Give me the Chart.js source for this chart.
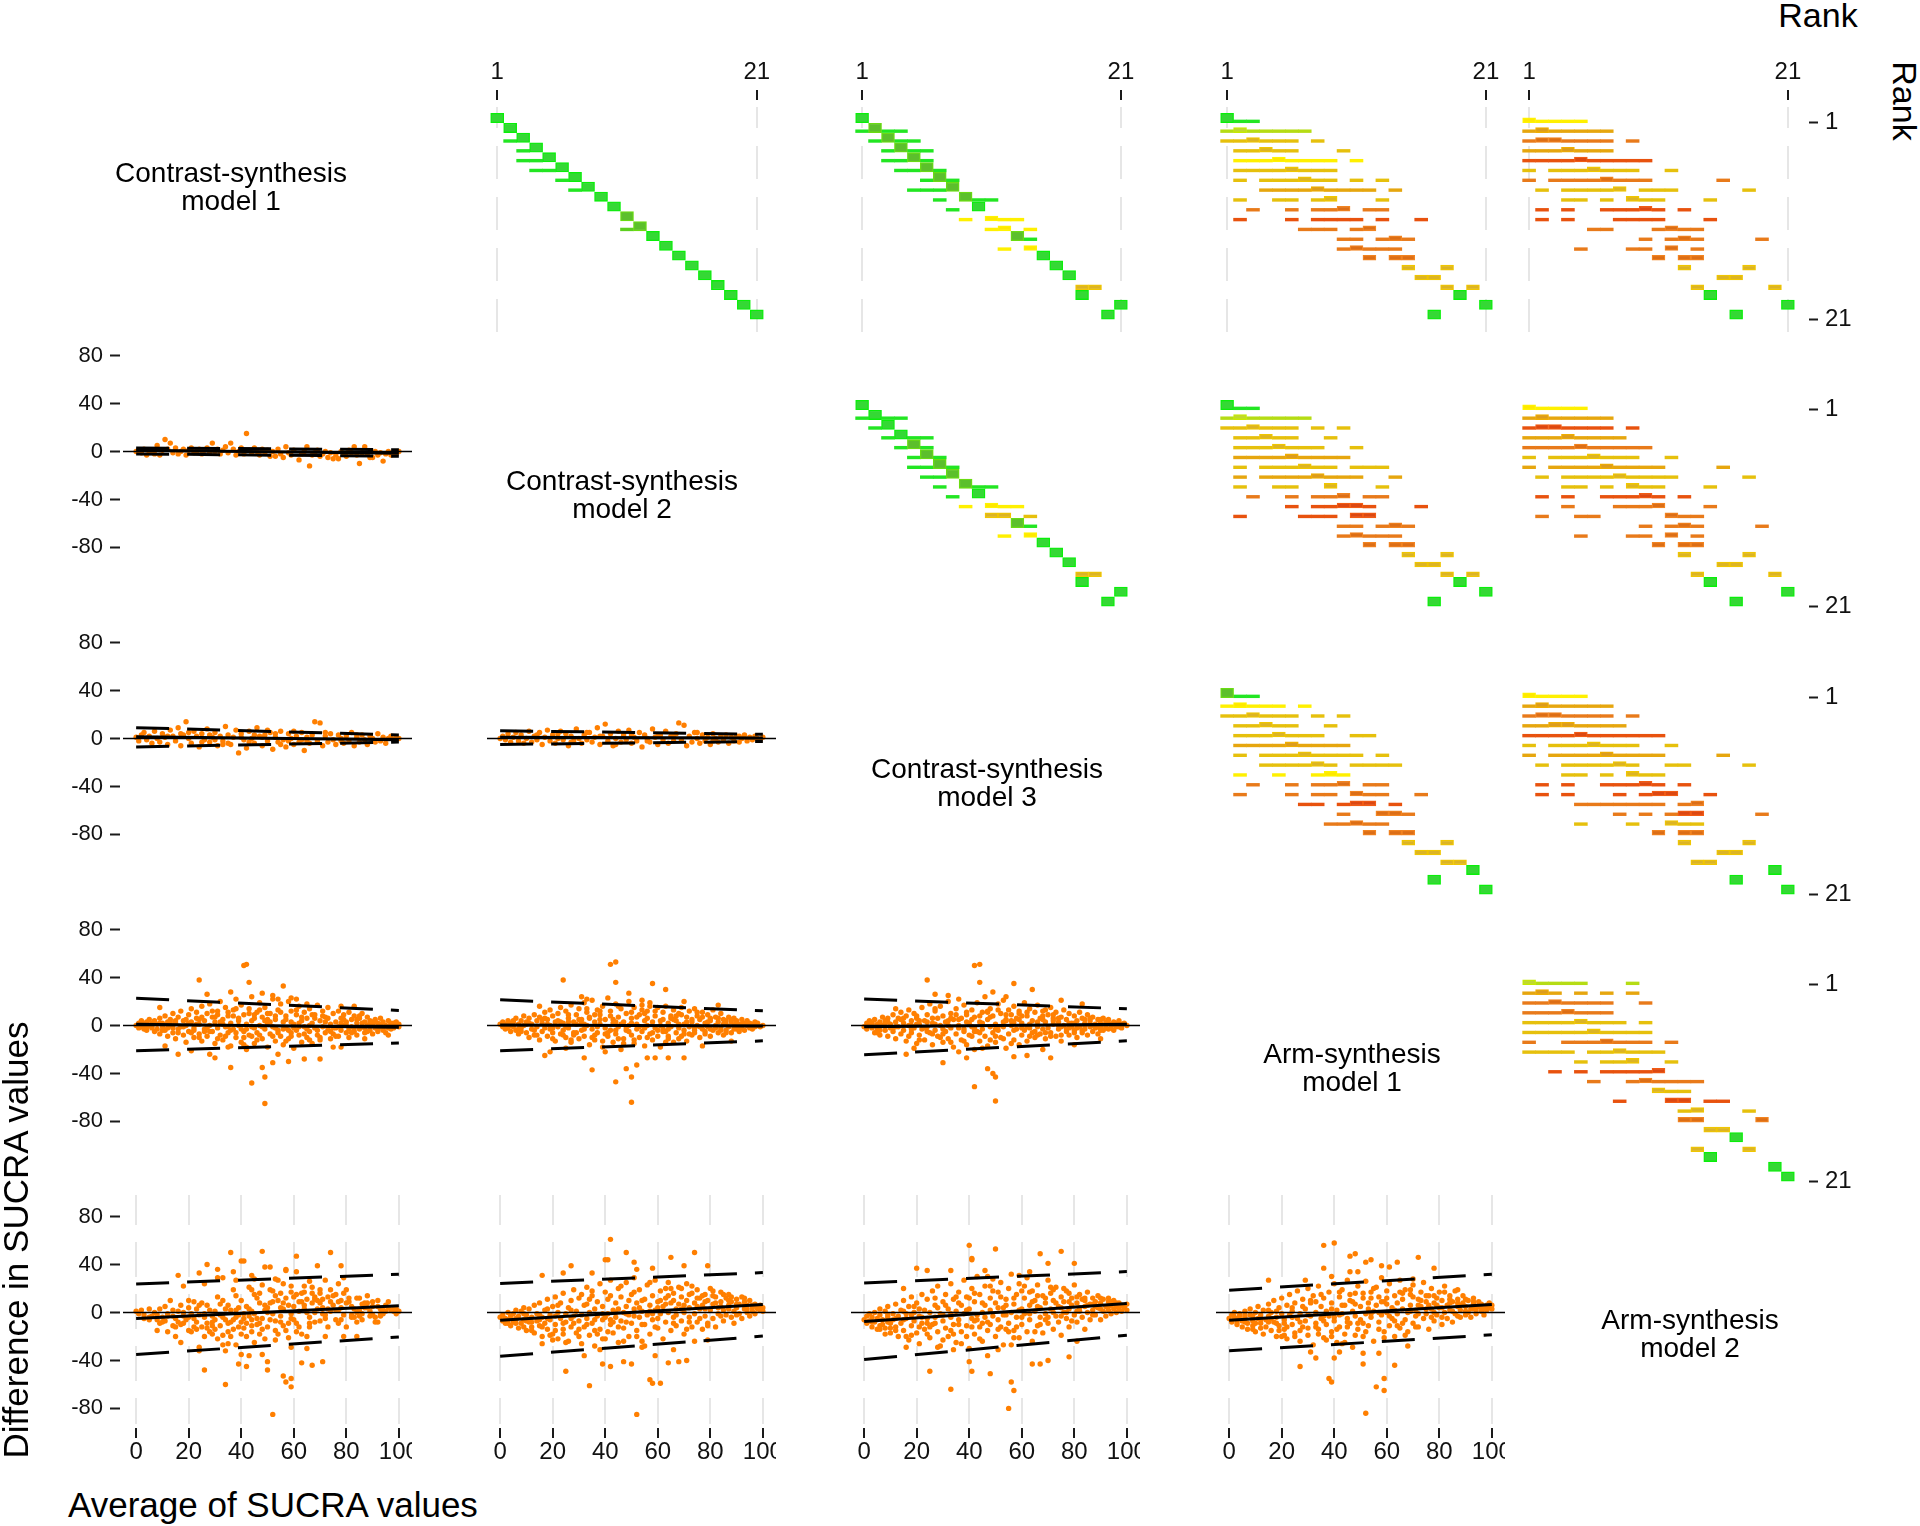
<!DOCTYPE html>
<html>
<head>
<meta charset="utf-8">
<title>SUCRA agreement matrix</title>
<script src="https://cdn.jsdelivr.net/npm/chart.js@4.4.1/dist/chart.umd.min.js"></script>
<style>
  html, body { margin:0; padding:0; background:#ffffff; }
  #root { position:relative; width:1920px; height:1526px; overflow:hidden; background:#fff;
          font-family:'Liberation Sans', Arial, Helvetica, sans-serif; color:#000; }
  #root canvas { position:absolute; }
  .txt { position:absolute; white-space:pre; text-align:center; color:#000; }
  .diag { width:500px; font-size:28px; line-height:28px; }
</style>
</head>
<body>
<div id="root"></div>
<script>
// ================= DATA =================
const MODELS = ["Contrast-synthesis\nmodel 1", "Contrast-synthesis\nmodel 2", "Contrast-synthesis\nmodel 3", "Arm-synthesis\nmodel 1", "Arm-synthesis\nmodel 2"];
const X_TITLE = "Average of SUCRA values";
const Y_TITLE = "Difference in SUCRA values";
const RANK_TITLE = "Rank";
const X_TICKS = [0, 20, 40, 60, 80, 100];
const Y_TICKS = [-80, -40, 0, 40, 80];
const RANK_TICKS = [1, 21];

// Bland-Altman points: flat lists x,y,x,y,...
const PTS_CS2_CS1 = [0,0,1,1,2,-1,3,2,4,-3,5,0,6,1,7,-2,8,5,9,-3,10,1,11,10,12,2,13,7,14,-1,15,3,16,-2,17,0,18,2,19,-3,20,1,21,3,22,-1,23,0,24,2,25,-2,26,1,27,3,28,-1,29,7,30,0,31,2,32,-2,33,1,34,4,35,-1,36,7,37,2,38,-3,39,0,40,3,41,-2,42,15,43,1,44,-1,45,3,46,0,47,-3,48,2,49,-1,50,1,51,-4,52,0,53,-4,54,2,55,-2,56,-5,57,4,58,-1,59,-3,60,1,62,-7,63,-2,64,0,65,4,66,-12,67,-3,68,-1,69,1,70,-4,71,-2,72,0,73,-5,74,-1,75,-6,76,-3,77,-6,78,0,79,-2,80,-4,81,1,82,-1,83,4,84,-3,85,-10,86,-1,87,4,88,-2,89,-5,90,-5,91,0,92,-3,93,-1,94,-8,95,-2,96,0,97,-3,98,-1,99,-2,100,0];
const PTS_CS3_CS1 = [0,1,1,-2,2,3,3,5,4,-1,5,2,6,-4,7,6,8,0,9,-3,10,4,11,1,12,-5,13,7,14,2,15,-2,16,9,17,-6,18,3,19,14,20,0,21,-4,22,6,23,2,24,-7,25,4,26,-1,27,8,28,-3,29,1,30,5,31,-6,32,2,33,-2,34,10,35,3,36,-5,37,1,38,7,39,-12,40,4,41,-1,42,-8,43,6,44,0,45,-4,46,9,47,2,48,-6,49,3,50,-2,51,5,52,-9,53,1,54,-3,55,6,56,-1,57,-7,58,4,59,0,60,-5,61,2,62,-3,63,5,64,-10,65,1,66,-4,67,3,68,14,69,-2,70,13,71,-6,72,2,73,-3,74,4,75,-1,76,-5,77,3,78,0,79,-4,80,2,81,-2,82,5,83,-6,84,1,85,-3,86,3,87,-1,88,-5,89,2,90,0,91,-3,92,4,93,-2,94,1,95,-4,96,0,97,2,98,-1,99,1,100,0,20,5,25,-3,30,-1,35,-4,40,1,45,3,50,7,55,-5,60,6,65,-2,12,2,17,4,28,3,33,-5,43,-3,48,1,53,4,58,-2,63,-1,72,5,78,-2,84,3];
const PTS_CS3_CS2 = [0,0,1,2,2,-1,3,4,4,-3,5,1,6,5,7,-2,8,3,9,-4,10,0,11,6,12,-3,13,2,14,-1,15,5,16,-5,17,1,18,7,19,-2,20,3,21,-4,22,0,23,6,24,-1,25,4,26,-6,27,2,28,-2,29,8,30,0,31,-4,32,3,33,-1,34,5,35,-3,36,1,37,9,38,-5,39,2,40,12,41,-2,42,4,43,-6,44,0,45,6,46,-3,47,2,48,-1,49,7,50,-4,51,1,52,-2,53,5,54,-7,55,3,56,0,57,-3,58,8,59,1,60,-5,61,3,62,-1,63,6,64,-4,65,2,66,-2,67,4,68,13,69,-1,70,11,71,-6,72,2,73,-3,74,5,75,0,76,-4,77,3,78,-2,79,1,80,-5,81,4,82,0,83,-3,84,2,85,-1,86,3,87,-4,88,1,89,-2,90,2,91,-3,92,0,93,3,94,-2,95,1,96,-1,97,2,98,0,99,-1,100,1,22,4,33,5,44,-5,50,3,60,2,75,5,14,3,27,-3,38,2,47,4,56,-2,66,3,81,-2,91,2];
const PTS_AS1_CS1 = [41,50,42,51,24,38,43,36,56,33,36,28,48,27,27,26,9,15,59,23,61,22,65,18,52,22,54,22,78,16,83,16,49,-65,44,-48,49,-43,48,-35,52,-31,36,-35,58,-30,64,-28,70,-28,54,-24,30,-27,28,-24,16,-24,21,-21,11,-17,35,-18,42,-18,75,-18,78,-18,87,-11,96,-8,
0,0,1,2,1,-2,2,4,2,-1,3,1,3,-3,4,3,4,-4,5,0,5,5,6,-2,6,2,7,-5,7,4,8,1,8,-3,9,6,9,-7,10,2,10,-1,11,8,11,-4,12,3,12,-9,13,0,13,5,14,-6,14,10,15,2,15,-11,16,7,16,-3,17,-1,17,12,18,-8,18,4,19,0,19,-14,20,9,20,-5,21,3,21,14,22,-2,22,-10,23,6,23,11,24,-7,24,1,25,-13,25,16,26,4,26,-3,27,10,27,-9,28,0,28,18,29,-5,29,7,30,-15,30,3,31,12,31,-2,32,-8,32,20,33,5,33,-12,34,-1,34,15,35,8,35,-6,36,2,36,-17,37,13,37,-3,38,22,38,-10,39,6,39,0,40,-14,40,17,41,-5,41,9,42,1,42,-20,43,14,43,-8,44,4,44,24,45,-2,45,-15,46,11,46,-6,47,19,47,0,48,-11,48,7,49,-3,49,15,50,2,50,-18,51,10,51,-7,52,-1,52,25,53,5,53,-13,54,13,54,-4,55,-9,55,18,56,3,56,-16,57,8,57,-2,58,20,58,-11,59,-6,59,12,60,1,60,-19,61,9,61,-4,62,16,62,-8,63,4,63,-14,64,-1,64,11,65,6,65,-10,66,14,66,-5,67,2,67,-15,68,9,68,-2,69,17,69,-8,70,4,70,-12,71,-1,71,12,72,7,72,-6,73,15,73,-3,74,1,74,-11,75,10,75,-7,76,3,76,-2,77,12,77,-9,78,-4,78,6,79,0,79,9,80,-6,80,3,81,11,81,-10,82,-1,82,5,83,8,83,-5,84,2,84,-8,85,6,85,-3,86,-1,86,10,87,3,87,-6,88,0,88,7,89,-4,89,4,90,1,90,-7,91,5,91,-2,92,2,92,-5,93,-1,93,6,94,3,94,-3,95,0,95,-6,96,4,96,-1,97,1,97,-3,98,2,98,-2,99,0,99,3,100,-1,100,1,
3,0,6,-1,9,2,12,-2,15,4,18,-1,21,-6,24,5,27,-2,30,7,33,1,36,-4,39,4,42,-3,45,6,48,-1,51,3,54,-6,57,5,60,-2,63,7,66,0,69,-4,72,3,75,-2,78,2,81,-3,84,5,87,-2,90,3,93,1,96,-2,20,2,26,-5,32,3,38,-6,44,-1,50,5,56,-3,62,2,68,6,74,-5,80,0,86,2,92,-3,47,-8,53,8,41,-10,59,-9,35,11,
2,1,4,-2,7,2,10,-4,13,3,16,-6,19,5,22,-4,25,7,28,-5,31,9,34,-9,37,8,40,-3,43,10,46,-12,49,4,52,-9,55,11,58,-4,61,13,64,-7,67,9,70,-10,73,6,76,-9,79,5,82,-6,85,8,88,-5,91,3,94,-4,97,2,14,-2,23,1,29,12,35,-1,41,-16,47,13,53,-2,59,3,65,-3,71,8,77,-1,83,-2,89,2,24,-10,38,14,50,10,57,-13,66,-12,44,-9,31,-11,62,-1,45,9];
const PTS_AS1_CS2 = [42,51,44,53,24,38,44,36,58,35,63,30,49,27,54,21,31,24,33,22,83,17,50,-64,44,-47,50,-43,48,-36,52,-33,35,-37,32,-27,56,-27,59,-27,64,-27,70,-27,17,-25,19,-22,25,-19,40,-22,77,-17,88,-13,15,16,70,20,
0,1,1,-1,1,3,2,-3,2,1,3,4,3,-2,4,0,4,-5,5,3,5,-1,6,6,6,-4,7,1,7,-7,8,4,8,-2,9,8,9,0,10,-6,10,3,11,-10,11,6,12,1,12,-3,13,9,13,-8,14,4,14,-1,15,-12,15,7,16,2,16,-5,17,11,17,-2,18,5,18,-9,19,0,19,13,20,-6,20,8,21,3,21,-13,22,-1,22,10,23,-7,23,15,24,2,24,-4,25,12,25,-10,26,6,26,-2,27,17,27,-14,28,3,28,-6,29,9,29,1,30,-11,30,14,31,-4,31,5,32,19,32,-9,33,0,33,11,34,-16,34,7,35,-3,35,21,36,3,36,-12,37,13,37,-6,38,1,38,9,39,-18,39,16,40,-2,40,5,41,23,41,-9,42,-4,42,12,43,-14,43,2,44,18,44,-7,45,7,45,-1,46,-20,46,14,47,3,47,-11,48,10,48,-4,49,20,49,0,50,-8,50,6,51,15,51,-15,52,1,52,-3,53,9,53,-10,54,17,54,-5,55,4,55,-17,56,12,56,0,57,-7,57,19,58,3,58,-12,59,8,59,-2,60,15,60,-9,61,0,61,-18,62,11,62,5,63,-5,63,16,64,2,64,-11,65,8,65,-1,66,-14,66,13,67,4,67,-6,68,10,68,-2,69,-9,69,15,70,1,70,-4,71,7,71,-13,72,12,72,-1,73,3,73,-8,74,14,74,-4,75,0,75,8,76,-10,76,5,77,11,77,-3,78,2,78,-7,79,9,79,-1,80,4,80,-9,81,13,81,-4,82,0,82,7,83,-6,83,3,84,10,84,-2,85,-8,85,5,86,1,86,-4,87,7,87,-1,88,3,88,-6,89,0,89,6,90,-3,90,4,91,-5,91,1,92,5,92,-2,93,2,93,-4,94,0,94,4,95,-2,95,2,96,1,96,-3,97,3,97,-1,98,0,98,2,99,-1,100,0,
4,2,7,-3,10,1,13,-4,16,5,19,-3,22,4,25,-1,28,-8,31,2,34,6,37,-1,40,-7,43,5,46,1,49,-5,52,7,55,-2,58,-6,61,4,64,-3,67,8,70,-7,73,5,76,-1,79,3,82,-2,85,1,88,5,91,-3,94,2,97,0,20,-2,26,3,32,-3,38,5,44,-4,50,2,56,6,62,-5,68,1,74,-6,80,6,86,-6,45,-11,55,10,36,9,64,-9,
2,-2,5,4,8,-5,11,2,14,-8,17,6,20,-11,23,3,26,9,29,-6,32,1,35,-10,38,12,41,-6,44,3,47,-15,50,11,53,-1,56,-10,59,12,62,-3,65,6,68,-11,71,3,74,-2,77,7,80,-3,83,6,86,4,89,-3,92,1,95,-1,98,1,18,1,24,-8,30,5,36,-8,42,8,48,-2,54,13,60,-4,66,5,72,-7,78,-5,84,-4,90,2,27,-12,33,14,39,-13,51,-12,57,16,63,-14,69,9,45,16,75,11];
const PTS_AS1_CS3 = [42,50,44,51,24,38,44,36,57,35,64,30,49,28,54,24,27,26,32,25,83,18,50,-63,42,-51,47,-36,49,-40,50,-43,30,-31,39,-27,57,-26,62,-25,71,-27,16,-24,19,-19,36,-22,68,-20,80,-16,12,14,75,21,90,-11,
0,-1,1,2,1,-3,2,0,2,4,3,-2,3,2,4,-6,4,5,5,1,5,-3,6,3,6,-8,7,7,7,0,8,-4,8,2,9,-9,9,6,10,1,10,-2,11,9,11,-5,12,3,12,-11,13,6,13,-1,14,-7,14,11,15,2,15,-4,16,8,16,-13,17,0,17,13,18,-6,18,4,19,-2,19,10,20,-15,20,6,21,1,21,-8,22,15,22,-3,23,4,23,-12,24,9,24,-1,25,-6,25,18,26,2,26,-16,27,12,27,-4,28,6,28,-9,29,0,29,16,30,-14,30,8,31,3,31,-5,32,20,32,-11,33,-2,33,10,34,5,34,-18,35,14,35,-7,36,0,36,22,37,-12,37,6,38,-3,38,17,39,9,39,-16,40,2,40,-8,41,13,41,-1,42,-20,42,7,43,19,43,-5,44,3,44,-13,45,11,45,-3,46,24,46,-9,47,5,47,-17,48,-1,48,14,49,-6,49,8,50,1,50,-14,51,18,51,-4,52,10,52,-10,53,-1,53,21,54,4,54,-19,55,13,55,-7,56,0,56,9,57,-12,57,16,58,6,58,-3,59,-16,59,12,60,2,60,-8,61,19,61,-4,62,8,62,-13,63,1,63,14,64,-6,64,4,65,11,65,-10,66,-1,66,17,67,6,67,-7,68,-3,68,12,69,3,69,-11,70,9,70,-2,71,15,71,-6,72,1,72,6,73,-9,73,11,74,-3,74,3,75,7,75,-13,76,0,76,13,77,-5,77,5,78,10,78,-8,79,-1,79,2,80,8,80,-4,81,-10,81,4,82,11,82,-1,83,-6,83,6,84,2,84,-3,85,9,85,-8,86,-1,86,4,87,7,87,-5,88,1,88,-2,89,5,89,-7,90,2,90,-1,91,6,91,-4,92,0,92,3,93,-3,93,5,94,1,94,-2,95,3,95,-4,96,0,96,2,97,-1,97,4,98,1,98,-2,99,2,100,0,
3,1,6,-4,9,3,12,-1,15,6,18,-3,21,4,24,-5,27,1,30,-3,33,6,36,-2,39,3,42,-5,45,2,48,7,51,-1,54,5,57,-4,60,8,63,-2,66,3,69,-6,72,4,75,-1,78,2,81,-2,84,5,87,0,90,-4,93,2,96,-1,20,1,26,-7,32,4,38,-5,44,8,50,-3,56,4,62,-1,68,5,74,0,80,-6,86,1,41,-9,59,10,47,11,53,-11,
2,2,5,-6,8,4,11,-2,14,5,17,-9,20,8,23,-2,26,6,29,-10,32,0,35,9,38,-13,41,5,44,-6,47,12,50,-9,53,3,56,-15,59,5,62,11,65,-5,68,8,71,-9,74,6,77,-3,80,2,83,-4,86,6,89,-1,92,-2,95,1,98,0,18,0,24,3,30,-7,36,5,42,-2,48,-12,54,9,60,-2,66,-8,72,9,78,-2,84,0,90,5,27,14,33,-14,39,11,45,-19,51,13,57,3,63,-9,69,13,75,-8,21,-12];
const PTS_AS2_CS1 = [36,50,48,51,40,43,41,43,27,40,61,47,74,50,78,39,69,39,49,38,51,38,37,34,31,36,24,33,16,31,44,31,57,36,57,35,54,27,61,34,72,27,26,24,18,22,31,29,33,29,38,27,45,28,
52,-85,34,-60,56,-53,59,-55,57,-58,59,-62,26,-48,50,-48,39,-43,42,-45,40,-35,43,-36,48,-35,50,-41,63,-42,67,-44,71,-41,65,-30,34,-32,33,-27,38,-27,59,-29,72,-20,79,-20,84,-20,17,-25,15,-20,12,-16,8,-15,24,-29,24,-32,
92,-8,88,14,84,12,92,10,96,9,94,-1,98,1,91,-4,86,-6,82,-2,80,19,77,24,79,29,74,19,70,16,68,13,64,17,63,9,60,5,59,22,55,16,52,9,49,2,
0,1,1,-1,2,2,3,-2,5,3,5,-4,7,0,8,-6,9,3,10,-8,11,5,13,10,14,-11,15,-5,16,1,17,6,18,-9,20,-15,21,-1,22,9,23,-8,23,3,25,-12,26,-4,27,6,29,-8,29,-18,30,1,31,13,32,-11,33,-4,35,6,35,-16,36,-8,37,19,38,2,39,-12,40,10,41,-5,42,-20,42,5,44,19,44,-11,45,-1,46,12,47,-18,48,23,48,-5,49,6,50,-12,51,19,52,-1,53,-23,54,10,55,-8,56,24,56,3,57,-15,60,13,61,-9,62,1,63,-18,64,22,66,-4,67,8,68,-8,69,3,70,19,71,-1,73,-12,75,6,76,-6,78,10,79,-2,80,-12,82,5,84,-8,85,2,87,8,89,1,90,5,91,-8,93,3,95,6,97,2,99,-1,100,1,98,3,
12,-3,14,2,19,-6,20,4,22,-12,24,-2,27,-9,28,2,30,-14,32,7,34,-6,36,2,37,-14,39,-2,40,-8,43,3,44,-16,46,-5,47,8,50,0,51,-6,53,14,55,-3,56,-11,58,6,59,-5,61,15,62,-12,64,3,65,11,66,-9,67,16,68,0,70,8,72,-5,73,13,74,1,76,15,77,-9,78,4,81,9,83,-4,85,12,86,-1,88,4,90,-2,93,-3,95,1,18,0,26,-20,33,-19,45,-25,58,-21,38,14,53,28,66,26,29,-3,43,-3,
5,-6,8,-2,11,-7,14,-3,17,-10,20,-4,23,-14,26,-1,29,-11,32,-2,35,-9,38,-4,41,-13,44,1,47,-9,50,4,53,-7,56,8,59,-1,62,9,65,0,68,11,71,4,74,9,77,2,80,8,83,3,86,7,89,-3,92,5,
3,-5,6,-3,9,-9,12,-1,15,-12,18,-3,21,-16,24,6,27,-13,30,-6,33,10,36,-20,39,4,42,-9,45,15,48,-14,51,8,54,-18,57,12,60,-6,63,16,66,-12,69,10,72,-2,75,14,78,-6,81,12,84,0,87,4,90,9,93,-1,96,4,99,3,10,-4,16,-8,22,-5,28,-16,34,3,40,-18,46,-10,52,18,58,-9,64,6,70,-7,76,2,82,-4,88,8,94,2,25,8,31,-22,37,-6,43,21,49,-22,55,4,61,-16,67,21,73,3,79,16,85,-3,20,10,35,-26,41,-1,47,16,53,-15,59,17,65,-20,71,11,77,9,44,-6];
const PTS_AS2_CS2 = [42,61,48,50,40,44,41,44,51,42,65,46,74,50,27,39,24,33,16,31,35,33,58,37,70,39,79,39,52,36,52,-85,34,-61,57,-56,61,-59,58,-59,25,-49,39,-43,42,-45,50,-43,47,-41,64,-42,68,-41,71,-40,59,-36,66,-31,38,-31,32,-36,16,-26,54,-29,74,-24,79,-23,20,-23,
0,-4,1,-7,1,-2,2,-9,2,-5,3,0,3,-6,4,-3,4,-11,5,-1,5,-8,6,2,6,-5,7,-13,7,-3,8,1,8,-9,9,-6,9,4,10,-15,10,-2,11,-8,11,3,12,-12,12,-4,13,6,13,-17,14,-1,14,-7,15,8,15,-11,16,-4,16,-20,17,2,17,-9,18,11,18,-14,19,-2,19,-6,20,5,20,-18,21,-10,21,13,22,0,22,-22,23,-5,23,8,24,-14,24,16,25,-1,25,-8,26,4,26,-24,27,-12,27,10,28,-3,28,19,29,-17,29,1,30,-7,30,12,31,-26,31,-2,32,6,32,-12,33,21,33,-5,34,0,34,-19,35,14,35,-9,36,3,36,-28,37,9,37,-3,38,24,38,-14,39,-6,39,5,40,17,40,-22,41,-1,41,11,42,-10,42,27,43,2,43,-17,44,8,44,-4,45,20,45,-25,46,-7,46,13,47,0,47,-13,48,25,48,5,49,-20,49,-2,50,15,50,-9,51,3,51,29,52,-15,52,8,53,-4,53,19,54,-24,54,1,55,11,55,-10,56,23,56,-2,57,6,57,-18,58,14,58,-6,59,27,59,2,60,-13,60,9,61,-1,61,18,62,-22,62,5,63,12,63,-8,64,25,64,0,65,-15,65,8,66,16,66,-4,67,3,67,-11,68,21,68,7,69,-7,69,13,70,0,70,-18,71,10,71,24,72,-4,72,4,73,16,73,-12,74,8,74,-1,75,19,75,-8,76,3,76,12,77,-14,77,6,78,15,78,-3,79,10,79,-9,80,2,80,20,81,-5,81,7,82,13,82,-12,83,4,83,-1,84,17,84,9,85,-7,85,2,86,12,86,-2,87,6,87,15,88,-4,88,9,89,1,89,-9,90,11,90,4,91,-1,91,7,92,13,92,-5,93,3,93,9,94,0,94,6,95,-3,95,10,96,4,96,1,97,7,97,-1,98,3,98,5,99,2,99,6,100,4,100,1,
6,-9,9,-12,12,-8,15,-2,18,-5,21,-15,24,-9,27,-5,30,-20,33,-10,36,-15,39,-1,42,-6,45,3,48,-8,51,-3,54,10,57,1,60,4,63,20,66,10,69,3,72,15,75,5,78,9,81,14,84,5,87,10,90,7,93,6,
3,-9,6,-6,9,-1,12,-15,15,-6,18,3,21,-3,24,-18,27,2,30,-14,33,7,36,-6,39,-22,42,14,45,-12,48,-1,51,17,54,-10,57,25,60,-5,63,7,66,-9,69,20,72,-8,75,12,78,3,81,18,84,-3,87,3,90,-2,93,12,96,6,99,4,10,-7,16,-12,22,6,28,-9,34,11,40,-4,46,22,52,-20,58,-1,64,14,70,6,76,-5,82,8,88,13,94,3,25,-25,31,15,37,-18,43,-8,49,10,55,-28,61,10,67,-2,73,22,79,-11,85,15,19,-19,35,18,41,-16,47,-24,53,4,59,-12,65,20,71,-14,77,14,44,0];
const PTS_AS2_CS3 = [40,56,50,53,41,44,41,45,67,49,75,51,70,41,80,41,20,37,24,35,33,35,46,35,15,20,63,34,59,31,55,-80,33,-64,57,-65,56,-58,48,-51,41,-49,25,-49,67,-43,64,-43,70,-40,40,-41,47,-36,78,-37,34,-31,16,-29,28,-29,51,-31,56,-27,81,-24,8,-18,
0,-6,1,-3,1,-9,2,-1,2,-7,3,-12,3,-4,4,0,4,-8,5,-5,5,-14,6,-2,6,3,7,-10,7,-6,8,1,8,-13,9,-4,9,5,10,-9,10,-17,11,-1,11,-6,12,7,12,-12,13,-3,13,-20,14,2,14,-9,15,-15,15,10,16,-5,16,-1,17,-23,17,5,18,-11,18,13,19,-7,19,0,20,-17,20,8,21,-3,21,-26,22,15,22,-9,23,2,23,-14,24,-5,24,11,25,-21,25,0,26,18,26,-10,27,-4,27,6,28,-16,28,22,29,-1,29,-28,30,9,30,-7,31,15,31,-13,32,3,32,-20,33,-4,33,24,34,11,34,-10,35,-25,35,1,36,17,36,-6,37,6,37,-16,38,-1,38,27,39,-11,39,13,40,-30,40,3,41,-5,41,20,42,9,42,-18,43,-2,43,30,44,-12,44,15,45,0,45,-24,46,6,46,22,47,-8,47,-15,48,12,48,2,49,-3,49,28,50,-20,50,8,51,17,51,-6,52,-12,52,25,53,4,53,-27,54,11,54,-2,55,20,55,-9,56,0,56,32,57,-15,57,7,58,15,58,-4,59,-21,59,24,60,3,60,-10,61,12,61,-1,62,29,62,-16,63,6,63,-6,64,18,64,-24,65,1,65,10,66,-11,66,23,67,4,67,-4,68,14,68,-17,69,8,69,-1,70,27,70,-9,71,3,71,16,72,-14,72,10,73,-3,73,21,74,5,74,-8,75,13,75,-19,76,0,76,9,77,18,77,-5,78,3,78,-12,79,12,79,6,80,-2,80,23,81,8,81,-8,82,15,82,1,83,-4,83,11,84,5,84,-14,85,17,85,0,86,7,86,-6,87,12,87,2,88,-2,88,9,89,14,89,4,90,-6,90,8,91,1,91,11,92,5,92,-3,93,9,93,2,94,6,94,-1,95,3,95,10,96,5,96,0,97,8,97,3,98,1,98,6,99,4,100,7,100,2,
6,-11,9,-8,12,-15,15,-6,18,-2,21,-12,24,-18,27,-9,30,-2,33,-15,36,-10,39,2,42,-7,45,8,48,-10,51,4,54,-14,57,12,60,-4,63,17,66,5,69,12,72,0,75,4,78,9,81,13,84,10,87,7,90,3,93,12,
3,-8,6,-14,9,-2,12,-5,15,1,18,-19,21,3,24,-9,27,12,30,-23,33,-1,36,8,39,-20,42,16,45,-9,48,22,51,-14,54,6,57,-21,60,18,63,-1,66,14,69,-6,72,19,75,-3,78,16,81,1,84,12,87,-2,90,12,93,5,96,8,99,5,10,-13,16,-20,22,-4,28,4,34,-18,40,12,46,-4,52,13,58,-12,64,9,70,-4,76,20,82,4,88,5,94,9,25,-12,31,6,37,-26,43,-6,49,18,55,-16,61,22,67,-10,73,8,79,-7,85,6,19,5,35,13,41,-12,47,30,53,-2,59,2,65,-16,71,21,77,0,44,-22];
const PTS_AS2_AS1 = [36,56,40,58,48,49,46,47,52,42,54,44,64,42,72,46,58,39,61,38,36,37,46,34,49,34,15,27,29,27,78,37,70,28,39,30,87,19,52,-84,38,-55,39,-58,56,-62,59,-65,59,-55,27,-45,51,-43,63,-44,40,-38,33,-38,51,-34,31,-33,57,-34,42,-33,20,-20,43,-26,68,-28,
0,-5,1,-2,1,-8,2,-4,2,0,3,-10,3,-6,4,-1,4,-3,5,-12,5,-7,6,1,6,-4,7,-9,7,-14,8,-2,8,3,9,-7,9,-11,10,0,10,-16,11,-5,11,5,12,-9,12,-2,13,-18,13,2,14,-6,14,-12,15,7,15,-3,16,-15,16,0,17,-8,17,10,18,-20,18,-4,19,4,19,-11,20,-1,20,12,21,-14,21,-6,22,6,22,-22,23,-2,23,15,24,-10,24,1,25,-17,25,8,26,-5,26,18,27,-24,27,-1,28,11,28,-12,29,3,29,-7,30,20,30,-19,31,-3,31,8,32,-27,32,14,33,-9,33,0,34,22,34,-14,35,5,35,-5,36,-21,36,12,37,1,37,-10,38,17,38,-3,39,-16,39,8,40,24,40,-7,41,2,41,-25,42,13,42,-12,43,-1,43,19,44,6,44,-18,45,-5,45,27,46,10,46,-9,47,1,47,-29,48,16,48,-3,49,-14,49,22,50,5,50,-6,51,12,51,-20,52,-1,52,26,53,8,53,-11,54,17,54,-4,55,1,55,-24,56,21,56,6,57,-8,57,13,58,-2,58,29,59,-16,59,9,60,18,60,0,61,-11,61,24,62,4,62,-5,63,14,63,-20,64,8,64,-1,65,27,65,-13,66,3,66,11,67,-6,67,19,68,0,68,-16,69,15,69,6,70,-9,70,23,71,2,71,-3,72,11,72,-12,73,17,73,5,74,-5,74,25,75,9,75,-1,76,-14,76,14,77,3,77,20,78,-7,78,8,79,12,79,-2,80,17,80,4,81,-10,81,10,82,0,82,22,83,6,83,-5,84,14,84,2,85,-8,85,9,86,18,86,-1,87,5,87,11,88,-4,88,2,89,8,89,14,90,-2,90,5,91,10,91,0,92,3,92,-4,93,7,93,12,94,2,94,-1,95,5,95,9,96,1,96,7,97,3,97,-2,98,6,98,2,99,4,99,8,100,3,100,6,
6,-8,9,-3,12,-13,15,-8,18,1,21,-9,24,-4,27,-15,30,-2,33,-12,36,-7,39,3,42,-2,45,-12,48,7,51,-9,54,12,57,0,60,7,63,-7,66,16,69,1,72,6,75,14,78,0,81,4,84,8,87,-3,90,11,93,3,
3,-8,6,-2,9,-14,12,-6,15,2,18,-9,21,-19,24,4,27,-8,30,-13,33,9,36,-3,39,-20,42,17,45,-8,48,-19,51,16,54,-1,57,-14,60,12,63,2,66,-9,69,19,72,-1,75,3,78,14,81,-4,84,11,87,8,90,1,93,9,96,4,99,6,10,-9,16,-5,22,-12,28,5,34,-18,40,-4,46,15,52,-16,58,9,64,-11,70,13,76,6,82,17,88,6,94,5,25,-20,31,10,37,-23,43,6,49,-9,55,20,61,-3,67,-19,73,10,79,6,85,1,19,-15,35,15,41,-14,47,9,53,3,59,-21,65,17,71,-12,77,-4,44,-25];

// Regression / limits: [mean@0, mean@100, upper@0, upper@100, lower@0, lower@100]
const LINES_CS2_CS1 = [1, -1.5, 3, 1.5, -2, -4];
const LINES_CS3_CS1 = [1.5, -1, 9, 3, -7, -3];
const LINES_CS3_CS2 = [1, 0.5, 6.5, 3.5, -5, -2.5];
const LINES_AS1_CS1 = [1, -1.5, 22.7, 12.6, -21, -14.7];
const LINES_AS1_CS2 = [0.5, -0.5, 21.4, 12.2, -21.1, -12.8];
const LINES_AS1_CS3 = [-1, 1, 22, 13.9, -24.4, -12.8];
const LINES_AS2_CS1 = [-5, 5.6, 23.8, 31.9, -35, -20.4];
const LINES_AS2_CS2 = [-6.4, 6.6, 24.2, 33.3, -36.4, -19.7];
const LINES_AS2_CS3 = [-7.5, 7.5, 24.7, 34.1, -39.2, -19];
const LINES_AS2_AS1 = [-6.4, 6.6, 18.6, 31.9, -32, -18.6];

// Rank cells per row (row index = rank in row model); tokens "col[-col]code"
// lower case = thin bar, upper case = box; g/m green, l lime, y yellow, o gold, a amber, d orange, r red
const RANK_CS1_CS2 = ["1G","2G","2g 3G","3g 4G","3-4g 5G","4-5g 6G","6g 7G","7g 8G","9G","10G","11M","11m 12M","13G","14G","15G","16G","17G","18G","19G","20G","21G"];
const RANK_CS1_CS3 = ["1G","1g 2M 3-4g","2g 3M 4-5g","3g 4M 5-6g","3-4g 5M 6g","4-5g 6M 7g","6g 7M 8g","5-7g 8M","7g 9M 10-11g","8g 10G","9y 11Y 12-13y","11y 12Y 14y","13M 14g","12y 14Y","15G","16G","17G","18-19O","18G","21G","20G"];
const RANK_CS1_AS1 = ["1G 2-3g","1l 2L 3-7l","1-2o 3O 4-6o 8o","2-3o 4O 5-6o 10o","2-4y 5Y 6-9y 11y","2-5o 6O 7-9o","2o 4-6o 7O 8-9o 11o 13o","4-7a 8A 9-12a 14a","2o 5-6o 8o 9O 13o","3d 6d 8-9d 10D 12-13d","2r 6r 8-11r 13r 16r","7-9d 11d 12D","10-11d 13d 14D 15d","10d 11D 12-14d","12D 14-15D","15O 18O","16-17O","18O 20O","19G","21G","17G"];
const RANK_CS1_AS2 = ["1Y 2-5y","1a 2A 3-7a","1d 2-3D 4-7d 9d","1-3a 4A 5-7a","1-4r 5R 6-10r","1o 3-5o 6O 7-9o 12o","1d 3-6d 7D 8-10d 16d","2o 4-7o 8O 10-12o 18o","4-5o 7o 9O 10-11o 15o","2r 4r 7-9r 10R 11r 13r","2r 4r 8-11r 15r","6-7d 11d 12D 13-14d","10d 12d 13D 14d 19d","5d 9-10d 12D 14d","11D 13-14D","13O 18O","16-17O","14O 20O","15G","21G","17G"];
const RANK_CS2_CS3 = ["1G","1g 2G 3-4g","2g 3G","3g 4G 5-6g","4g 5M 6g","5g 6M 7g","5-6g 7M 8g","6-7g 8M","7g 9M 10-11g","8g 10G","9y 11Y 12-13y","11-12O 14o","13M 14g","12y 14Y","15G","16G","17G","18-19O","18G","21G","20G"];
const RANK_CS2_AS1 = ["1G 2-3g","1l 2L 3-7l","1-2o 3O 4-6o 8o 10o","2-3o 4O 5-6o 9o","2-4o 5O 6-8o 11o","2-5a 6A 7-10a","2o 4-6o 7O 8-9o 11-13o","2a 4-7a 8A 9-11a 14a","2o 5-6o 9O 13o","3d 6d 8-9d 10D 12-13d","6r 8-9r 10-11R 12r 16r","2r 7-9r 11-12R","10-11d 13d 14D 15d","10d 11D 12-14d","12D 14-15D","15O 18O","16-17O","18O 20O","19G","21G","17G"];
const RANK_CS2_AS2 = ["1Y 2-5y","1a 2A 3-7a","1r 2-3R 4-7r 9r","1-3a 4A 5-8a","1-4d 5D 6-10d","1o 3-5o 6O 7-9o 12o","1a 3-6a 7A 8-11a 16a","2o 4-7o 8O 9-12o 18o","4-5o 7o 9O 10-11o 15o","2r 4r 7-9r 10R 11r 13r","4d 8-10d 11D 15d","2d 5-6d 12D 13-14d","10d 12d 13D 14d 19d","5d 9-10d 12D 14d","11D 13-14D","13O 18O","16-17O","14O 20O","15G","21G","17G"];
const RANK_CS3_AS1 = ["1M 2-3g","1y 2Y 3-5y 7y","1-2o 3O 4-6o 8o 10o","2-3o 4O 5-6o 9o","2-4o 5O 6-8o 11-12o","2-5a 6A 7-10a","2o 4-6o 7O 8-11o 13o","4-7o 8O 9o 11-14o","2y 5y 8y 9Y 10y","3d 6d 8-9d 10D 12-13d","2d 6d 8-9d 11D 12-13d 16d","7-8r 10r 11-12R 14r","10d 13-14D 15d","9-10d 11D 12-13d","12D 14-15D","15O 18O","16-17O","18-19O","20G","17G","21G"];
const RANK_CS3_AS2 = ["1Y 2-5y","1a 2A 3-7a","1d 2-3D 4-7d 9d","1-2a 3-4A 5-8a","1-4r 5R 6-11r","1o 3-5o 6O 7-9o 12o","1a 3-6a 7A 8-11a 16a","2o 4-7o 8O 9o 12-13o 18o","4-5o 7o 9O 10-11o","2r 4r 7-9r 10R 11r 13r","2r 4r 8r 10r 11-12R 15r","5-11d 13d 14D","8d 10d 12d 13-14R 19d","5o 9o 12O 13-14o","11D 13-14D","13O 18O","16-17O","14-15O","20G","17G","21G"];
const RANK_AS1_AS2 = ["1L 2-5l 9l","1a 2A 3a 5a 7a 9a","1-2d 3D 4-7d 10d","1-3d 4D 5-7d","1-4o 5O 6-8o 10o","1-5o 6O 7-10o","1d 4-6d 7D 8-10d 12d","1-4o 6-7o 8O 9-11o","5o 7-8o 9O 12o","3r 5r 7-10r 11R","6d 9d 10D 11-14d","11O 12-13o","8r 12-13R 15-16r","13o 14O 18o","13-14D 19D","15-16O","17G","14O 18O","15G","20G","21G"];

// ================= LAYOUT & STYLE =================
const FONT = "'Liberation Sans', Arial, Helvetica, sans-serif";
const SC_X0 = [136, 500, 864.5, 1229];        // pixel of x=0 per column 1..4
const SC_PX_X = 2.625;
const SC_Y0 = [451.7, 738.6, 1025.5, 1312.4]; // pixel of y=0 per row 2..5
const SC_PX_Y = 1.2;
const SC_XR = [-5, 105], SC_YR = [-93, 98];
const RK_X1 = [497.5, 862, 1226.7, 1529.3];   // pixel of rank 1 per column 2..5
const RK_PX_X = 12.95;
const RK_Y1 = [122.7, 410, 697.3, 984.6];     // pixel of rank 1 per row 1..4
const RK_PX_Y = 9.83;
const RK_XR = [-0.4, 22.4], RK_YR = [-0.6, 22.4];
const DIAG_POS = [[231, 173], [622, 481], [987, 769], [1352, 1054], [1690, 1320]];
const FILL = {g:'#22e622', G:'#35d835', m:'#5ccf1e', M:'#5cbf2c', l:'#b5dc14', L:'#bfd830',
  y:'#fff000', Y:'#ffe800', o:'#e6c00c', O:'#dcb424', a:'#e6a60e', A:'#dc9c1e',
  d:'#e87a1a', D:'#dc6e16', r:'#e8520e', R:'#dc4812'};
const EDGE = {G:'#08f008', M:'#6adc12', L:'#c6ea00', Y:'#fff400', O:'#f0c600', A:'#f0ae00', D:'#f28420', R:'#f25c14'};
const POINT_COLOR = '#ff7f00';
const TICK_COLOR = '#1a1a1a';
const GRID_COLOR = '#e6e6e6';

Chart.defaults.font.family = FONT;
Chart.defaults.color = '#111';

const root = document.getElementById('root');

function addCanvas(aL, aT, aR, aB, axL, axT, axR, axB) {
  const l = Math.round(aL), t = Math.round(aT), r = Math.round(aR), b = Math.round(aB);
  const W = r - l + axL + axR, H = b - t + axT + axB;
  const c = document.createElement('canvas');
  c.width = W; c.height = H;
  c.style.left = (l - axL) + 'px'; c.style.top = (t - axT) + 'px';
  c.style.width = W + 'px'; c.style.height = H + 'px';
  root.appendChild(c);
  return c;
}

// fix an axis' thickness and drop the label overflow padding so the plot area stays exact
function fixAxis(key, size) {
  return s => {
    s[key] = size;
    s.paddingTop = 0; s.paddingBottom = 0; s.paddingLeft = 0; s.paddingRight = 0;
  };
}

function seg(x0, y0, x1, y1, w, dash) {
  return { data: [{x: x0, y: y0}, {x: x1, y: y1}], showLine: true, borderColor: '#000',
    borderWidth: w, borderDash: dash, pointRadius: 0, pointHoverRadius: 0, fill: false,
    tension: 0, borderCapStyle: 'butt' };
}

const baseOpts = {
  responsive: false, maintainAspectRatio: false, animation: false, events: [],
  layout: { padding: 0, autoPadding: false },
  plugins: { legend: { display: false }, tooltip: { enabled: false } }
};

function scatterPanel(row, col, pts, ln) {
  const showY = col === 1, showX = row === 5;
  const axL = showY ? 90 : 0, axB = showX ? 48 : 0;
  const x0 = SC_X0[col - 1], y0 = SC_Y0[row - 2];
  const cv = addCanvas(x0 + SC_XR[0] * SC_PX_X, y0 - SC_YR[1] * SC_PX_Y,
                       x0 + SC_XR[1] * SC_PX_X, y0 - SC_YR[0] * SC_PX_Y, axL, 0, 0, axB);
  const points = [];
  for (let i = 0; i + 1 < pts.length; i += 2) points.push({x: pts[i], y: pts[i + 1]});
  new Chart(cv, {
    type: 'scatter',
    data: { datasets: [
      seg(0, ln[0], 100, ln[1], 3, []),
      seg(0, ln[2], 100, ln[3], 3, [33, 18]),
      seg(0, ln[4], 100, ln[5], 3, [33, 18]),
      seg(SC_XR[0], 0, SC_XR[1], 0, 1.3, []),
      { data: points, showLine: false, pointRadius: 2.7, pointHoverRadius: 2.7,
        pointBackgroundColor: POINT_COLOR, pointBorderWidth: 0 }
    ]},
    options: Object.assign({}, baseOpts, {
      scales: {
        x: { type: 'linear', min: SC_XR[0], max: SC_XR[1], display: showX, position: 'bottom',
          afterBuildTicks: s => { s.ticks = X_TICKS.map(v => ({value: v})); },
          afterFit: fixAxis('height', axB),
          grid: { color: GRID_COLOR, lineWidth: 2, drawOnChartArea: true, drawTicks: true,
            tickLength: 14, tickColor: TICK_COLOR, tickWidth: 2, tickBorderDash: [10, 4], tickBorderDashOffset: 10 },
          border: { display: false, dash: [35, 17], dashOffset: 5 },
          ticks: { font: { size: 24, family: FONT }, color: '#111', padding: 0, maxRotation: 0, autoSkip: false } },
        y: { type: 'linear', min: SC_YR[0], max: SC_YR[1], display: showY, position: 'left',
          afterBuildTicks: s => { s.ticks = Y_TICKS.map(v => ({value: v})); },
          afterFit: fixAxis('width', axL),
          grid: { drawOnChartArea: false, drawTicks: true, tickLength: 13, tickColor: TICK_COLOR,
            tickWidth: 2, tickBorderDash: [10, 3], tickBorderDashOffset: 0 },
          border: { display: false },
          ticks: { font: { size: 22, family: FONT }, color: '#111', padding: 7, autoSkip: false } }
      }
    })
  });
}

function cellHeight(k) {
  if (k === k.toLowerCase()) return 0.28;
  if (k === 'G' || k === 'M') return 0.95;
  return 0.5;
}

function rankPanel(row, col, rows) {
  const showTop = row === 1, showRight = col === 5;
  const axT = showTop ? 60 : 0, axR = showRight ? 60 : 0;
  const X1 = RK_X1[col - 2], Y1 = RK_Y1[row - 1];
  const cv = addCanvas(X1 + (RK_XR[0] - 1) * RK_PX_X, Y1 + (RK_YR[0] - 1) * RK_PX_Y,
                       X1 + (RK_XR[1] - 1) * RK_PX_X, Y1 + (RK_YR[1] - 1) * RK_PX_Y, 0, axT, axR, 0);
  const cells = [];
  rows.forEach((s, i) => {
    s.trim().split(/\s+/).forEach(tok => {
      const m = /^(\d+)(?:-(\d+))?([A-Za-z])$/.exec(tok);
      if (!m) return;
      const a = +m[1], b = m[2] ? +m[2] : a;
      for (let c = a; c <= b; c++) cells.push({ c: c, r: i + 1, k: m[3] });
    });
  });
  cells.sort((p, q) => cellHeight(p.k) - cellHeight(q.k));
  const data = cells.map(o => ({ x: o.c, y: [o.r, o.r - cellHeight(o.k)] }));
  new Chart(cv, {
    type: 'bar',
    data: { datasets: [{
      data: data,
      backgroundColor: cells.map(o => FILL[o.k]),
      borderColor: cells.map(o => EDGE[o.k] || FILL[o.k]),
      borderWidth: cells.map(o => (o.k === o.k.toLowerCase() ? 0 : 1.3)),
      borderSkipped: false, categoryPercentage: 1, barPercentage: 1, grouped: false
    }]},
    options: Object.assign({}, baseOpts, {
      scales: {
        x: { type: 'linear', min: RK_XR[0], max: RK_XR[1], offset: false, display: showTop, position: 'top',
          afterBuildTicks: s => { s.ticks = RANK_TICKS.map(v => ({value: v})); },
          afterFit: fixAxis('height', axT),
          grid: { offset: false, color: GRID_COLOR, lineWidth: 2, drawOnChartArea: true, drawTicks: true,
            tickLength: 17, tickColor: TICK_COLOR, tickWidth: 2, tickBorderDash: [10, 10], tickBorderDashOffset: 0 },
          border: { display: false, dash: [33, 18], dashOffset: 12 },
          ticks: { font: { size: 24, family: FONT }, color: '#111', padding: 3, maxRotation: 0, autoSkip: false } },
        y: { type: 'linear', min: RK_YR[0], max: RK_YR[1], reverse: true, display: showRight, position: 'right',
          afterBuildTicks: s => { s.ticks = RANK_TICKS.map(v => ({value: v})); },
          afterFit: fixAxis('width', axR),
          grid: { drawOnChartArea: false, drawTicks: true, tickLength: 12, tickColor: TICK_COLOR,
            tickWidth: 2, tickBorderDash: [9, 3], tickBorderDashOffset: 9 },
          border: { display: false },
          ticks: { font: { size: 24, family: FONT }, color: '#111', padding: 7, autoSkip: false } }
      }
    })
  });
}

// lower triangle: Bland-Altman panels
scatterPanel(2, 1, PTS_CS2_CS1, LINES_CS2_CS1);
scatterPanel(3, 1, PTS_CS3_CS1, LINES_CS3_CS1);
scatterPanel(3, 2, PTS_CS3_CS2, LINES_CS3_CS2);
scatterPanel(4, 1, PTS_AS1_CS1, LINES_AS1_CS1);
scatterPanel(4, 2, PTS_AS1_CS2, LINES_AS1_CS2);
scatterPanel(4, 3, PTS_AS1_CS3, LINES_AS1_CS3);
scatterPanel(5, 1, PTS_AS2_CS1, LINES_AS2_CS1);
scatterPanel(5, 2, PTS_AS2_CS2, LINES_AS2_CS2);
scatterPanel(5, 3, PTS_AS2_CS3, LINES_AS2_CS3);
scatterPanel(5, 4, PTS_AS2_AS1, LINES_AS2_AS1);

// upper triangle: rank panels
rankPanel(1, 2, RANK_CS1_CS2);
rankPanel(1, 3, RANK_CS1_CS3);
rankPanel(1, 4, RANK_CS1_AS1);
rankPanel(1, 5, RANK_CS1_AS2);
rankPanel(2, 3, RANK_CS2_CS3);
rankPanel(2, 4, RANK_CS2_AS1);
rankPanel(2, 5, RANK_CS2_AS2);
rankPanel(3, 4, RANK_CS3_AS1);
rankPanel(3, 5, RANK_CS3_AS2);
rankPanel(4, 5, RANK_AS1_AS2);

// diagonal labels & titles
function addText(txt, cls, styles) {
  const d = document.createElement('div');
  d.className = 'txt ' + (cls || '');
  d.textContent = txt;
  Object.assign(d.style, styles);
  root.appendChild(d);
  return d;
}
MODELS.forEach((m, i) => {
  addText(m, 'diag', { left: (DIAG_POS[i][0] - 250) + 'px', top: (DIAG_POS[i][1] - 14) + 'px' });
});
addText(X_TITLE, '', { left: '68px', top: '1485px', fontSize: '35px', lineHeight: '40px', textAlign: 'left' });
addText(Y_TITLE, '', { left: '-284px', top: '1220px', width: '600px', fontSize: '35px', lineHeight: '40px', transform: 'rotate(-90deg)' });
addText(RANK_TITLE, '', { left: '1718px', top: '-3px', width: '200px', fontSize: '34px', lineHeight: '36px' });
addText(RANK_TITLE, '', { left: '1805px', top: '83px', width: '200px', fontSize: '34px', lineHeight: '36px', transform: 'rotate(90deg)' });
</script>
</body>
</html>
